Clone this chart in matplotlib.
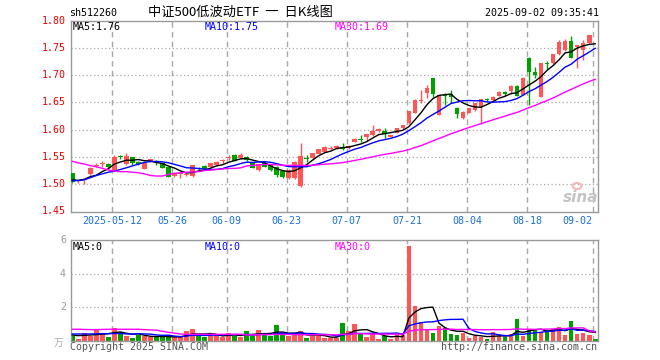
import numpy as np
import pandas as pd
import matplotlib
matplotlib.use("Agg")
import matplotlib.pyplot as plt
from matplotlib.patches import Ellipse

# ---------------- data ----------------
opens = [1.520, 1.505, 1.505, 1.518, 1.533, 1.537, 1.537, 1.525, 1.552, 1.537,
         1.549, 1.541, 1.528, 1.541, 1.543, 1.538, 1.531, 1.515, 1.518, 1.516,
         1.515, 1.529, 1.534, 1.532, 1.535, 1.542, 1.548, 1.553, 1.548, 1.550,
         1.538, 1.526, 1.5385, 1.535, 1.532, 1.525, 1.5115, 1.511, 1.497, 1.548,
         1.5475, 1.556, 1.5597, 1.565, 1.566, 1.5677, 1.566, 1.578, 1.582, 1.5866,
         1.590, 1.5976, 1.598, 1.587, 1.5934, 1.6026, 1.612, 1.631, 1.652, 1.668,
         1.694, 1.627, 1.663, 1.665, 1.640, 1.621, 1.631, 1.636, 1.642, 1.656,
         1.654, 1.662, 1.669, 1.671, 1.680, 1.6636, 1.732, 1.706, 1.660, 1.722,
         1.7216, 1.738, 1.746, 1.7625, 1.752, 1.746, 1.758, 1.770]
highs = [1.521, 1.508, 1.507, 1.531, 1.538, 1.543, 1.539, 1.553, 1.554, 1.558,
         1.550, 1.543, 1.540, 1.547, 1.545, 1.539, 1.532, 1.521, 1.521, 1.520,
         1.536, 1.531, 1.535, 1.539, 1.543, 1.546, 1.554, 1.556, 1.557, 1.551,
         1.539, 1.537, 1.540, 1.536, 1.533, 1.526, 1.527, 1.542, 1.575, 1.553,
         1.558, 1.565, 1.570, 1.570, 1.572, 1.575, 1.571, 1.584, 1.590, 1.5925,
         1.608, 1.603, 1.6037, 1.591, 1.6035, 1.609, 1.635, 1.656, 1.6727, 1.682,
         1.695, 1.664, 1.6667, 1.6727, 1.641, 1.634, 1.640, 1.649, 1.657, 1.658,
         1.662, 1.670, 1.671, 1.682, 1.682, 1.696, 1.733, 1.7154, 1.723, 1.726,
         1.739, 1.764, 1.766, 1.771, 1.756, 1.764, 1.774, 1.770]
lows = [1.503, 1.503, 1.501, 1.517, 1.531, 1.531, 1.530, 1.524, 1.546, 1.536,
        1.535, 1.536, 1.527, 1.540, 1.536, 1.529, 1.513, 1.513, 1.512, 1.515,
        1.514, 1.524, 1.526, 1.531, 1.534, 1.537, 1.5445, 1.542, 1.547, 1.543,
        1.529, 1.525, 1.531, 1.524, 1.514, 1.512, 1.510, 1.510, 1.494, 1.541,
        1.547, 1.555, 1.559, 1.562, 1.565, 1.563, 1.565, 1.577, 1.578, 1.579,
        1.589, 1.595, 1.584, 1.586, 1.593, 1.602, 1.611, 1.630, 1.648, 1.6575,
        1.660, 1.626, 1.645, 1.648, 1.622, 1.620, 1.630, 1.635, 1.610, 1.652,
        1.653, 1.661, 1.662, 1.665, 1.662, 1.663, 1.645, 1.694, 1.659, 1.711,
        1.721, 1.737, 1.745, 1.731, 1.7135, 1.7277, 1.757, 1.769]
closes = [1.504, 1.506, 1.506, 1.530, 1.536, 1.5385, 1.531, 1.549, 1.549, 1.552,
          1.539, 1.537, 1.5385, 1.546, 1.538, 1.530, 1.514, 1.520, 1.520, 1.519,
          1.535, 1.527, 1.5275, 1.5385, 1.540, 1.545, 1.550, 1.543, 1.554, 1.544,
          1.530, 1.5366, 1.532, 1.526, 1.517, 1.514, 1.526, 1.541, 1.552, 1.546,
          1.557, 1.5645, 1.569, 1.567, 1.570, 1.5646, 1.570, 1.583, 1.581, 1.5916,
          1.598, 1.601, 1.592, 1.590, 1.6026, 1.6086, 1.634, 1.654, 1.654, 1.677,
          1.665, 1.6635, 1.661, 1.659, 1.629, 1.633, 1.639, 1.648, 1.656, 1.654,
          1.660, 1.6696, 1.666, 1.6806, 1.6623, 1.695, 1.706, 1.700, 1.7227, 1.720,
          1.738, 1.760, 1.7625, 1.732, 1.755, 1.758, 1.773, 1.769]
volumes = [0.30, 0.10, 0.44, 0.30, 0.68, 0.44, 0.22, 0.76, 0.50, 0.30,
           0.16, 0.36, 0.30, 0.20, 0.20, 0.20, 0.32, 0.20, 0.20, 0.60,
           0.70, 0.30, 0.20, 0.34, 0.34, 0.24, 0.48, 0.30, 0.20, 0.60,
           0.30, 0.64, 0.34, 0.30, 0.96, 0.34, 0.30, 0.34, 0.58, 0.16,
           0.30, 0.30, 0.16, 0.14, 0.14, 1.08, 0.60, 1.00, 0.40, 0.22,
           0.40, 0.12, 0.30, 0.12, 0.34, 0.34, 5.64, 2.08, 1.14, 0.68,
           0.46, 0.88, 0.74, 0.40, 0.34, 0.46, 0.14, 0.28, 0.24, 0.10,
           0.54, 0.28, 0.24, 0.40, 1.30, 0.28, 0.64, 0.68, 0.54, 0.64,
           0.68, 0.80, 0.32, 1.20, 0.40, 0.44, 0.32, 0.10]

# moving-average values at the start of the window (read from the chart,
# they depend on days before the first visible candle)
ma5_head = [1.508, 1.507, 1.509, 1.514]
ma10_head = [1.5066, 1.5066, 1.508, 1.512, 1.516, 1.519, 1.522, 1.524, 1.527]
ma30_head = [1.542, 1.539, 1.537, 1.534, 1.532, 1.529, 1.526, 1.524, 1.523, 1.523,
             1.522, 1.521, 1.519, 1.516, 1.515, 1.515, 1.518, 1.520, 1.521, 1.522,
             1.5225, 1.523, 1.525, 1.526, 1.527, 1.528, 1.529, 1.529, 1.530]
vma5_head = [0.34, 0.30, 0.32, 0.34]
vma10_head = [0.40, 0.40, 0.40, 0.40, 0.41, 0.42, 0.42, 0.43, 0.43]
vma30_head = [0.68, 0.68, 0.67, 0.66, 0.66, 0.67, 0.68, 0.68, 0.68, 0.68,
              0.68, 0.68, 0.66, 0.64, 0.63, 0.56, 0.50, 0.45, 0.40, 0.38,
              0.38, 0.38, 0.38, 0.38, 0.38, 0.38, 0.38, 0.38, 0.38]

date_labels = ["2025-05-12", "05-26", "06-09", "06-23", "07-07", "07-21", "08-04", "08-18", "09-02"]
date_index = [7, 17, 26, 36, 46, 56, 66, 76, 87]
price_ticks = [1.80, 1.75, 1.70, 1.65, 1.60, 1.55, 1.50, 1.45]
vol_ticks = [6, 4, 2]

# ---------------- helpers ----------------
W, H = 660, 360
RED = "#ff5555"
GREEN = "#00a000"
GRID = "#a8a8a8"
FRAME = "#999999"
MONO = "DejaVu Sans Mono"
FS = 7.2


def ma(values, n, head):
    out = pd.Series(values, dtype=float).rolling(n).mean().to_numpy()
    out[:len(head)] = head
    return out


def fx(x):
    return x / W


def fy(y):
    return 1 - y / H


o = np.array(opens); c = np.array(closes); hi = np.array(highs); lo = np.array(lows)
v = np.array(volumes)
idx = np.arange(len(c))
up = c >= o
colors = np.where(up, RED, GREEN)

fig = plt.figure(figsize=(W / 100, H / 100), dpi=100, facecolor="white")

left, right = 70.5, 598.0
ax = fig.add_axes([fx(left), fy(211.5), (right - left) / W, (211.5 - 20.5) / H])
ax2 = fig.add_axes([fx(left), fy(340.7), (right - left) / W, (340.7 - 240.0) / H])

xl = (-0.30, 87.47)
for a in (ax, ax2):
    a.set_xlim(*xl)
    a.set_xticks([]); a.set_yticks([])
    for s in a.spines.values():
        s.set_color(FRAME); s.set_linewidth(1.0)
    for d in date_index:
        a.axvline(d - 0.33, color=GRID, lw=1.0, ls=(0, (4, 3)), zorder=0)

ax.set_ylim(1.45, 1.80)
ax2.set_ylim(0, 6)
for p in price_ticks[1:-1]:
    ax.axhline(p, color=GRID, lw=0.9, ls=(0, (1, 2)), zorder=0)
for t in (2, 4):
    ax2.axhline(t, color=GRID, lw=0.9, ls=(0, (1, 2)), zorder=0)

# candles
bw = 0.78
ax.vlines(idx, lo, hi, colors=colors, lw=1.0, zorder=2)
body_bot = np.minimum(o, c)
body_h = np.maximum(np.abs(c - o), 0.0016)
ax.bar(idx, body_h, bottom=body_bot, width=bw, color=colors, lw=0, zorder=3)

# price MAs
ax.plot(idx, ma(c, 5, ma5_head), color="black", lw=1.0, zorder=4)
ax.plot(idx, ma(c, 10, ma10_head), color="#0000ff", lw=1.0, zorder=4)
ax.plot(idx, ma(c, 30, ma30_head), color="#ff00ff", lw=1.0, zorder=4)

# volume
ax2.bar(idx, v, width=bw, color=colors, lw=0, zorder=2)
ax2.plot(idx, ma(v, 5, vma5_head), color="black", lw=1.0, zorder=4)
ax2.plot(idx, ma(v, 10, vma10_head), color="#0000ff", lw=1.0, zorder=4)
ax2.plot(idx, ma(v, 30, vma30_head), color="#ff00ff", lw=1.0, zorder=4)

# price labels
ytr = ax.get_yaxis_transform()
for p in price_ticks:
    ax.text(-4.5 / (right - left), p, f"{p:.2f}", transform=ytr, ha="right", va="center",
            color="#ee0000", fontsize=FS, family=MONO, clip_on=False)
ytr2 = ax2.get_yaxis_transform()
for t in vol_ticks:
    ax2.text(-4.5 / (right - left), t, f"{t}", transform=ytr2, ha="right", va="center",
             color="#999999", fontsize=FS, family=MONO, clip_on=False)
fig.text(fx(63), fy(343), "万", ha="right", va="center", color="#aaaaaa", fontsize=7,
         family=["Noto Sans CJK SC", "DejaVu Sans"])

# date labels
xtr = ax.get_xaxis_transform()
for lab, d in zip(date_labels, date_index):
    xpos = d - 0.33
    if lab == "09-02":
        xpos = d - 2.9
    ax.text(xpos, -(221.5 - 211.5) / 191.0, lab, transform=xtr, ha="center", va="center",
            color="#1a6fd6", fontsize=FS, family=MONO, clip_on=False)

# MA legends
fig.text(fx(73), fy(27), "MA5:1.76", color="black", fontsize=FS, family=MONO, va="center")
fig.text(fx(205), fy(27), "MA10:1.75", color="#0000ff", fontsize=FS, family=MONO, va="center")
fig.text(fx(335), fy(27), "MA30:1.69", color="#ff00ff", fontsize=FS, family=MONO, va="center")
fig.text(fx(73), fy(246.5), "MA5:0", color="black", fontsize=FS, family=MONO, va="center")
fig.text(fx(205), fy(246.5), "MA10:0", color="#0000ff", fontsize=FS, family=MONO, va="center")
fig.text(fx(335), fy(246.5), "MA30:0", color="#ff00ff", fontsize=FS, family=MONO, va="center")

# header
fig.text(fx(69), fy(13), "sh512260", color="black", fontsize=FS, family=MONO, va="center")
fig.text(fx(240), fy(12.5), "中证500低波动ETF  一  日K线图", color="black", fontsize=9.5,
         family=["Noto Sans CJK SC", "DejaVu Sans"], ha="center", va="center")
fig.text(fx(599), fy(13), "2025-09-02 09:35:41", color="black", fontsize=FS, family=MONO,
         ha="right", va="center")

# footer
fig.text(fx(70), fy(347), "Copyright 2025 SINA.COM", color="#555555", fontsize=FS, family=MONO, va="center")
fig.text(fx(597), fy(347), "http://finance.sina.com.cn", color="#555555", fontsize=FS, family=MONO,
         ha="right", va="center")

# watermark
fig.text(fx(581), fy(197), "sina", color="#c4c4c4", fontsize=11, style="italic", weight="bold",
         ha="center", va="center", family="DejaVu Sans")
fig.add_artist(Ellipse((fx(577), fy(186)), 9 / W, 6 / H, transform=fig.transFigure,
                       fill=False, edgecolor="#f4b8b8", lw=1.5))

fig.savefig("out.png", dpi=100, facecolor="white")
